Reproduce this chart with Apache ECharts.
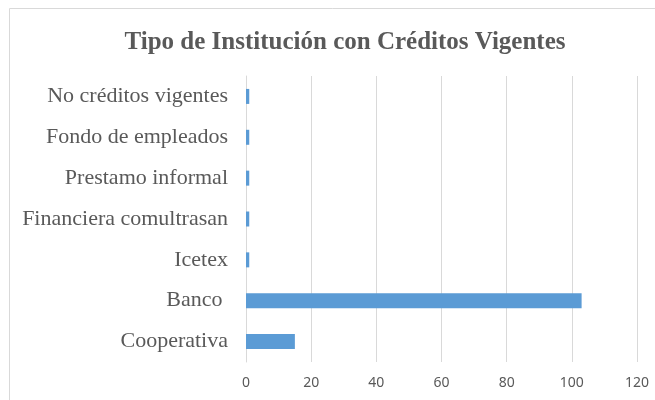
<!DOCTYPE html>
<html>
<head>
<meta charset="utf-8">
<script src="https://cdn.jsdelivr.net/npm/echarts@6/dist/echarts.min.js"></script>
<style>
  html, body { margin: 0; padding: 0; background: #fff; }
  #main { width: 655px; height: 400px; }
</style>
</head>
<body>
<div id="main"></div>
<script>
// categories from bottom to top
var categorias = ['Cooperativa', 'Banco ', 'Icetex', 'Financiera comultrasan', 'Prestamo informal', 'Fondo de empleados', 'No créditos vigentes'];
var valores = [15, 103, 1, 1, 1, 1, 1];

var myChart = echarts.init(document.getElementById('main'));
var option = {
    animation: false,
    title: {
        text: 'Tipo de Institución con Créditos Vigentes',
        left: 340,
        textAlign: 'center',
        top: 25,
        textStyle: {
            fontFamily: 'Liberation Serif',
            fontWeight: 'bold',
            fontSize: 25,
            color: '#595959'
        }
    },
    graphic: [{
        type: 'rect',
        shape: { x: 9.5, y: 8.5, width: 700, height: 500 },
        style: { fill: 'none', stroke: '#d9d9d9', lineWidth: 1 },
        silent: true
    }],
    grid: {
        left: 246,
        right: 18,
        top: 76,
        bottom: 38
    },
    xAxis: {
        type: 'value',
        min: 0,
        max: 120,
        interval: 20,
        axisLine: { show: false },
        axisTick: { show: false },
        axisLabel: {
            fontFamily: 'Noto Sans',
            fontSize: 14,
            color: '#595959',
            margin: 14
        },
        splitLine: { lineStyle: { color: '#d9d9d9', width: 1 } }
    },
    yAxis: {
        type: 'category',
        data: categorias,
        axisLine: { lineStyle: { color: '#d9d9d9' } },
        axisTick: { show: false },
        axisLabel: {
            fontFamily: 'Liberation Serif',
            fontSize: 22,
            color: '#595959',
            margin: 18
        }
    },
    series: [{
        type: 'bar',
        data: valores,
        barWidth: 15,
        itemStyle: { color: '#5b9bd5' }
    }]
};
myChart.setOption(option);
</script>
</body>
</html>
